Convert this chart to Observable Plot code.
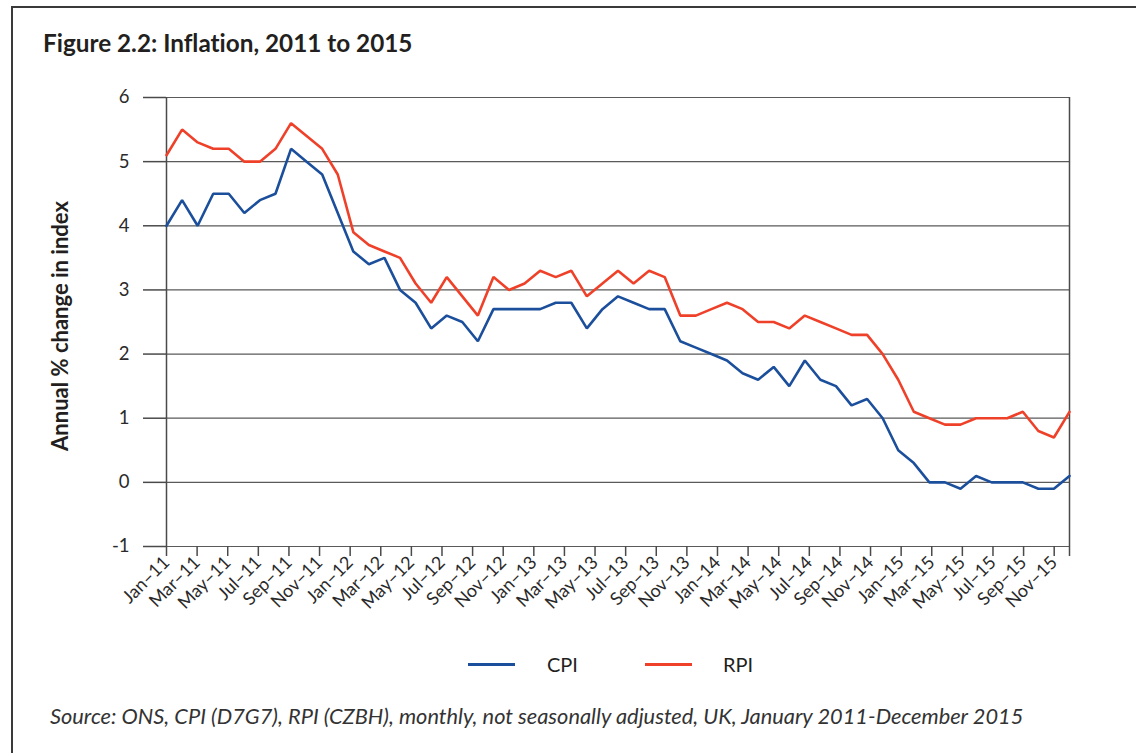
<!DOCTYPE html>
<html>
<head>
<meta charset="utf-8">
<script src="https://cdn.jsdelivr.net/npm/d3@7"></script>
<script src="https://cdn.jsdelivr.net/npm/@observablehq/plot@0.6"></script>
<style>
  html, body { margin: 0; padding: 0; background: #fff; }
  body { width: 1136px; height: 753px; position: relative; overflow: hidden; font-family: Lato, "Open Sans", sans-serif; color: #231f20; font-variant-ligatures: none; }
  .frame { position: absolute; left: 11px; top: 6px; width: 1300px; height: 900px; border-left: 2px solid #3a3a3a; border-top: 2px solid #3a3a3a; }
  .title { position: absolute; left: 43px; top: 31px; font-size: 24.3px; font-weight: 700; line-height: 24px; white-space: nowrap; }
  .ylabel { position: absolute; left: 59px; top: 326px; transform: translate(-50%, -50%) rotate(-90deg); font-size: 22px; font-weight: 700; white-space: nowrap; }
  #chart { position: absolute; left: 0; top: 70px; }
  .legend { position: absolute; top: 652px; left: 0; width: 1136px; height: 24px; font-size: 20px; }
  .legend .sw { position: absolute; top: 11px; height: 3px; }
  .legend .lab { position: absolute; top: 0; line-height: 24px; }
  .source { position: absolute; left: 50px; top: 706px; font-size: 21.8px; font-style: italic; line-height: 20px; white-space: nowrap; color: #333; }
</style>
</head>
<body>
<div class="frame"></div>
<div class="title">Figure 2.2: Inflation, 2011 to 2015</div>
<div class="ylabel">Annual % change in index</div>
<div id="chart"></div>
<div class="legend" id="legend"></div>
<div class="source">Source: ONS, CPI (D7G7), RPI (CZBH), monthly, not seasonally adjusted, UK, January 2011-December 2015</div>
<script>
// Monthly values as drawn (59 points)
const cpi = [4.0,4.4,4.0,4.5,4.5,4.2,4.4,4.5,5.2,5.0,4.8,4.2,
             3.6,3.4,3.5,3.0,2.8,2.4,2.6,2.5,2.2,2.7,2.7,2.7,
             2.7,2.8,2.8,2.4,2.7,2.9,2.8,2.7,2.7,2.2,2.1,2.0,
             1.9,1.7,1.6,1.8,1.5,1.9,1.6,1.5,1.2,1.3,1.0,0.5,
             0.3,0.0,0.0,-0.1,0.1,0.0,0.0,0.0,-0.1,-0.1,0.1];
const rpi = [5.1,5.5,5.3,5.2,5.2,5.0,5.0,5.2,5.6,5.4,5.2,4.8,
             3.9,3.7,3.6,3.5,3.1,2.8,3.2,2.9,2.6,3.2,3.0,3.1,
             3.3,3.2,3.3,2.9,3.1,3.3,3.1,3.3,3.2,2.6,2.6,2.7,
             2.8,2.7,2.5,2.5,2.4,2.6,2.5,2.4,2.3,2.3,2.0,1.6,
             1.1,1.0,0.9,0.9,1.0,1.0,1.0,1.1,0.8,0.7,1.1];
// Axis month labels (every second month of a Jan-11..Dec-15 axis)
const monthLabels = ["Jan–11","Mar–11","May–11","Jul–11","Sep–11","Nov–11",
                     "Jan–12","Mar–12","May–12","Jul–12","Sep–12","Nov–12",
                     "Jan–13","Mar–13","May–13","Jul–13","Sep–13","Nov–13",
                     "Jan–14","Mar–14","May–14","Jul–14","Sep–14","Nov–14",
                     "Jan–15","Mar–15","May–15","Jul–15","Sep–15","Nov–15"];
const axisMonths = 60;          // Jan-11 .. Dec-15 on the category axis
const yTicks = [-1,0,1,2,3,4,5,6];
const seriesNames = ["CPI","RPI"];
const seriesColors = ["#1b4f9c","#ef4129"];

const nPts = cpi.length;
const span = nPts - 1;
const toX = m => m * span / (axisMonths - 1);
const tickPos = monthLabels.map((_, j) => toX(2 * j)).concat([toX(axisMonths - 1)]);
const tickLab = new Map(monthLabels.map((l, j) => [toX(2 * j), l]));

const rows = [];
cpi.forEach((v, i) => rows.push({i, v, s: "CPI"}));
rpi.forEach((v, i) => rows.push({i, v, s: "RPI"}));

const chart = Plot.plot({
  width: 1136,
  height: 560,
  marginTop: 27,
  marginBottom: 84,
  marginLeft: 166,
  marginRight: 67,
  style: {fontFamily: "Lato, 'Open Sans', sans-serif", color: "#2a2a2a", background: "transparent"},
  x: {type: "linear", domain: [0, span]},
  y: {domain: [-1, 6]},
  color: {domain: seriesNames, range: seriesColors},
  marks: [
    Plot.ruleY(yTicks, {stroke: "#5a5a5a", strokeWidth: 1.2}),
    Plot.ruleX([0, span], {y1: -1, y2: 6, stroke: "#4a4a4a", strokeWidth: 1.5}),
    Plot.axisY(yTicks, {tickSize: 23, tickPadding: 14, fontSize: 18.5, stroke: "#4a4a4a", strokeWidth: 1.5, label: null, tickFormat: d => String(d)}),
    Plot.axisX(tickPos, {tickSize: 10, tickPadding: 3, tickRotate: -45, fontSize: 18, stroke: "#4a4a4a", strokeWidth: 1.5, label: null,
                         tickFormat: d => tickLab.get(d) ?? ""}),
    Plot.lineY(rows, {x: "i", y: "v", z: "s", stroke: "s", strokeWidth: 2.6, strokeLinejoin: "miter"})
  ]
});
document.getElementById("chart").appendChild(chart);

// Legend
const legend = document.getElementById("legend");
const legPos = [{line: 468, text: 547}, {line: 645, text: 723}];
seriesNames.forEach((name, k) => {
  const sw = document.createElement("div");
  sw.className = "sw";
  sw.style.left = legPos[k].line + "px";
  sw.style.width = "47px";
  sw.style.background = seriesColors[k];
  legend.appendChild(sw);
  const lab = document.createElement("div");
  lab.className = "lab";
  lab.style.left = legPos[k].text + "px";
  lab.textContent = name;
  legend.appendChild(lab);
});
</script>
</body>
</html>
